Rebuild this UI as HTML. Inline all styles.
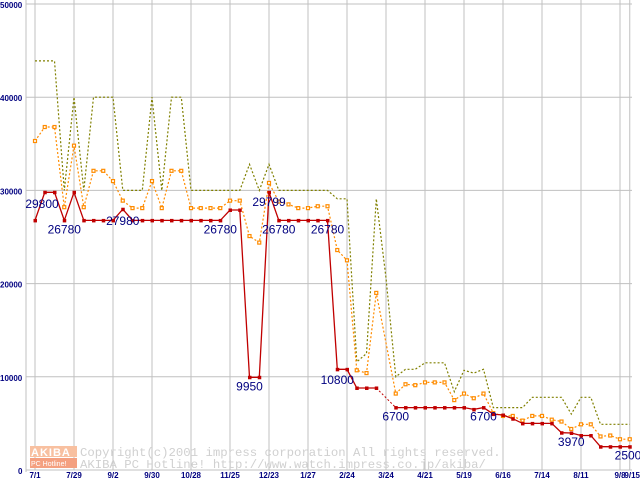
<!DOCTYPE html>
<html><head><meta charset="utf-8"><style>
html,body{margin:0;padding:0;background:#fff;}
svg{display:block;font-family:"Liberation Sans",sans-serif;}
</style></head><body>
<svg id="chart" width="640" height="480" viewBox="0 0 640 480">
<g id="grid"></g>
<g id="axes"></g>
<g id="watermark">
<rect x="30" y="446" width="47" height="11" fill="#f8c0a0"/>
<rect x="30" y="458" width="47" height="10" fill="#f4a080"/>
<text x="31" y="456" font-size="11" font-weight="bold" fill="#fff" letter-spacing="1">AKIBA</text>
<text x="31" y="466" font-size="7" fill="#fff">PC Hotline!</text>
<text x="80" y="456" font-size="12.3" fill="#d0d0d0" font-family="Liberation Mono, monospace">Copyright(c)2001 impress corporation All rights reserved.</text>
<text x="80" y="468" font-size="12.3" fill="#d0d0d0" font-family="Liberation Mono, monospace">AKIBA PC Hotline!  http://www.watch.impress.co.jp/akiba/</text>
</g>
<g id="series"></g>
<g id="labels"></g>
</svg>
<script>
const yTicks = [0,10000,20000,30000,40000,50000];
const xTickLabels = ["7/1","7/29","9/2","9/30","10/28","11/25","12/23","1/27","2/24","3/24","4/21","5/19","6/16","7/14","8/11","9/8","9/15"];
const xTickIdx = [0,4,8,12,16,20,24,28,32,36,40,44,48,52,56,60,61];
const minPrice = [26780,29800,29800,26780,29800,26780,26780,26780,26780,27980,26780,26780,26780,26780,26780,26780,26780,26780,26780,26780,27900,27900,9950,9950,29799,26780,26780,26780,26780,26780,26780,10800,10800,8800,8800,8800,null,6700,6700,6700,6700,6700,6700,6700,6700,6500,6700,6000,5900,5500,5000,5000,5000,5000,4000,3970,3700,3700,2500,2500,2500,2500];
const avgPrice = [35300,36800,36800,28200,34800,28200,32100,32100,31000,28900,28100,28100,31000,28100,32100,32100,28100,28100,28100,28100,28900,28900,25100,24400,30800,28800,28500,28100,28100,28300,28300,23600,22500,10700,10400,19000,null,8200,9200,9100,9400,9400,9400,7500,8200,7700,8200,6100,5800,5800,5300,5800,5800,5400,5200,4400,4900,4900,3600,3700,3300,3300];
const maxPrice = [43900,43900,43900,30000,40000,30000,40000,40000,40000,30000,30000,30000,40000,30000,40000,40000,30000,30000,30000,30000,30000,30000,32800,30000,32800,30000,30000,30000,30000,30000,30000,29100,29100,11600,12500,29100,20600,10000,10800,10800,11500,11500,11500,8400,10700,10400,10800,6700,6700,6700,6700,7800,7800,7800,7800,6000,7800,7800,4900,4900,4900,4900];
const labelIdx = [1,3,9,19,24,25,30,22,31,37,46,55,61];
const labelText = ["29800","26780","27980","26780","29799","26780","26780","9950","10800","6700","6700","3970","2500"];

const NS="http://www.w3.org/2000/svg";
function xS(i){return 35+i*9.75;}
function yS(v){return 470-v*0.00932;}
function mk(tag,attrs,parent){const e=document.createElementNS(NS,tag);for(const k in attrs)e.setAttribute(k,attrs[k]);parent.appendChild(e);return e;}
const grid=document.getElementById('grid'),axes=document.getElementById('axes'),series=document.getElementById('series'),labels=document.getElementById('labels');

yTicks.forEach(v=>{
  const l=mk('line',{x1:26,x2:632,y1:yS(v),y2:yS(v),stroke:'#c0c0c0','stroke-width':1},grid);
  
  
  const t=mk('text',{x:v===0?18:0,y:yS(v)+4,'font-size':8,'font-weight':'bold',fill:'#000080'},axes);
  t.textContent=String(v);
  
  
});
mk('line',{x1:26,x2:26,y1:0,y2:472,stroke:'#c0c0c0','stroke-width':1},grid);
xTickIdx.forEach((idx,k)=>{
  const x=xS(idx);
  const l=mk('line',{x1:x,x2:x,y1:0,y2:470,stroke:'#c0c0c0','stroke-width':1},grid);
  
  
  const t=mk('text',{x:x,y:478,'font-size':8,'font-weight':'bold',fill:'#000080','text-anchor':k===16?'end':'middle'},axes);
  t.textContent=xTickLabels[k];
  if(k===16){t.setAttribute('x',640);}
  
  
});

function pathSolid(arr){
  let d='';let pen=false;arr.forEach((v,i)=>{if(v==null){pen=false;return;}d+=(pen?'L':'M')+xS(i).toFixed(1)+' '+yS(v).toFixed(1);pen=true;});return d;
}
function pathGaps(arr){
  let d='';arr.forEach((v,i)=>{if(v!=null)return;let a=i-1,b=i+1;while(a>=0&&arr[a]==null)a--;while(b<arr.length&&arr[b]==null)b++;if(a>=0&&b<arr.length)d+='M'+xS(a)+' '+yS(arr[a])+'L'+xS(b)+' '+yS(arr[b]);});return d;
}
function pathAll(arr){
  let d='';let first=true;arr.forEach((v,i)=>{if(v==null)return;d+=(first?'M':'L')+xS(i).toFixed(1)+' '+yS(v).toFixed(1);first=false;});return d;
}
const pMax=mk('path',{d:pathAll(maxPrice),fill:'none',stroke:'#808000','stroke-width':1.2,'stroke-dasharray':'2,2'},series);


const pAvg=mk('path',{d:pathAll(avgPrice),fill:'none',stroke:'#ff8c00','stroke-width':1.2,'stroke-dasharray':'2,2'},series);


avgPrice.forEach((v,i)=>{if(v==null)return;
  const r=mk('rect',{x:xS(i)-1.5,y:yS(v)-1.5,width:3,height:3,fill:'#fff',stroke:'#ff8c00','stroke-width':1.2},series);
  
  
});
const pMin=mk('path',{d:pathSolid(minPrice),fill:'none',stroke:'#c00000','stroke-width':1.3},series);


const pMinGap=mk('path',{d:pathGaps(minPrice),fill:'none',stroke:'#c00000','stroke-width':1,'stroke-dasharray':'2,2'},series);


minPrice.forEach((v,i)=>{if(v==null)return;
  const r=mk('rect',{x:xS(i)-1.5,y:yS(v)-1.5,width:3.5,height:3.5,fill:'#c00000'},series);
  
  
});
labelIdx.forEach((idx,k)=>{
  const v=minPrice[idx];
  let x=xS(idx), y=yS(v)+13;
  if(labelText[k]==="29800"){x=42;y=208;}
  if(labelText[k]==="29799"){y=206;}
  if(labelText[k]==="27980"){y=225;}
  if(labelText[k]==="10800"){y=384;}
  if(labelText[k]==="2500"){x=628;}
  const t=mk('text',{x:x,y:y,'font-size':12,fill:'#000080','text-anchor':'middle'},labels);
  t.textContent=labelText[k];
  
  
});
</script>
</body></html>
